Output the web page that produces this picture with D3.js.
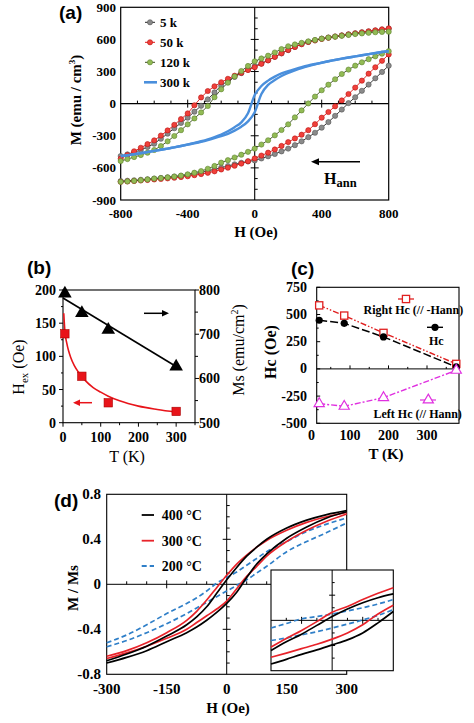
<!DOCTYPE html>
<html><head><meta charset="utf-8">
<script src="https://cdn.jsdelivr.net/npm/d3@7"></script>
<style>body{margin:0;background:#fff}svg{display:block}</style>
</head><body>
<script>
// ---------------- DATA ----------------
// (a) hysteresis loops, field H (Oe) and magnetization M (emu/cm3)
const aH = [-800,-760,-720,-680,-640,-600,-560,-520,-480,-440,-400,-360,-320,-280,-240,-200,-160,-120,-80,-40,0,40,80,120,160,200,240,280,320,360,400,440,480,520,560,600,640,680,720,760,800];
const a5kUp  = [-489,-474,-455,-432,-405,-374,-328,-280,-230,-180,-131,-75,-20,40,105,170,212,250,285,318,350,376,405,437,470,500,530,557,577,592,607,617,627,637,647,657,666,674,683,692,700];
const a5kLo  = [-723,-720,-716,-711,-706,-700,-694,-688,-681,-674,-665,-654,-642,-628,-613,-598,-583,-567,-552,-540,-530,-512,-492,-470,-446,-420,-388,-352,-313,-272,-224,-172,-114,-55,5,60,120,178,237,296,355];
const a50kUp = [-514,-480,-445,-412,-378,-343,-298,-250,-198,-144,-91,-15,58,118,162,200,232,261,288,314,340,372,404,437,470,501,530,555,576,590,605,616,627,637,647,657,666,676,685,694,703];
const a50kLo = [-730,-727,-723,-718,-713,-708,-703,-698,-692,-686,-678,-668,-658,-646,-632,-615,-598,-580,-560,-538,-512,-485,-458,-428,-395,-359,-325,-290,-248,-192,-131,-78,-25,30,90,150,215,280,340,400,460];
const a120kUp = [-536,-518,-499,-480,-458,-433,-396,-352,-302,-248,-193,-138,-82,-22,60,134,196,254,305,352,395,422,448,478,510,536,553,568,582,595,607,617,626,634,642,650,656,662,667,670,672];
const a120kLo = [-730,-726,-721,-715,-708,-700,-695,-689,-681,-672,-660,-645,-630,-608,-582,-551,-528,-503,-477,-450,-420,-382,-342,-296,-246,-193,-128,-63,2,66,125,177,228,277,318,355,386,415,442,467,490];
const a300kUp = [-489,-483,-472,-462,-452,-441,-431,-420,-409,-396,-382,-367,-351,-333,-312,-288,-258,-220,-175,-90,80,165,215,252,282,303,322,340,356,370,383,396,408,420,431,441,452,463,473,482,491];
const a300kLo = [-491,-482,-473,-463,-452,-441,-431,-420,-408,-396,-383,-370,-356,-340,-322,-303,-282,-252,-215,-165,-80,90,175,220,258,288,312,333,351,367,382,396,409,420,431,441,452,462,472,483,489];
const aSeries = ["5 k","50 k","120 k","300 k"];
const aXTicks = [-800,-400,0,400,800];
const aYTicks = [-900,-600,-300,0,300,600,900];

// (b) exchange bias and Ms vs T
const bT   = [5, 50, 120, 300];
const bHex = [134, 70, 30, 17];
const bMs  = [792, 748, 710, 627];
const bHexFitT = [2,5,10,15,20,30,40,50,60,80,100,120,150,200,250,300];
const bHexFit  = [165,138,120,108,99,86,77,70,63,53,46,40,33,25,20,16];
const bMsFitT = [0, 300];
const bMsFit  = [782, 627];
const bXTicks = [0,100,200,300];
const bYLTicks = [0,50,100,150,200];
const bYRTicks = [500,600,700,800];

// (c) coercivity vs T
const cT     = [20, 85, 187, 376];
const cRight = [584, 490, 331, 46];
const cHc    = [447, 419, 294, 18];
const cLeft  = [-319, -344, -264, -13];
const cXTicks = [0,100,200,300];
const cYTicks = [-500,-250,0,250,500,750];

// (d) normalized loops for different annealing temperatures
const dH = [-300,-250,-200,-150,-100,-75,-50,-25,0,25,50,75,100,150,200,250,300];
const d400Up = [-0.68,-0.62,-0.55,-0.46,-0.36,-0.29,-0.20,-0.08,0.04,0.15,0.25,0.33,0.40,0.50,0.57,0.62,0.655];
const d400Lo = [-0.70,-0.65,-0.59,-0.51,-0.43,-0.38,-0.32,-0.25,-0.17,-0.07,0.06,0.18,0.27,0.41,0.51,0.59,0.645];
const d300Up = [-0.64,-0.59,-0.52,-0.43,-0.32,-0.24,-0.14,-0.03,0.08,0.18,0.26,0.33,0.39,0.48,0.55,0.60,0.64];
const d300Lo = [-0.66,-0.61,-0.55,-0.48,-0.40,-0.34,-0.28,-0.22,-0.15,-0.04,0.07,0.16,0.25,0.38,0.48,0.56,0.625];
const d200Up = [-0.52,-0.45,-0.36,-0.26,-0.17,-0.12,-0.06,0.01,0.06,0.11,0.17,0.23,0.29,0.38,0.47,0.535,0.59];
const d200Lo = [-0.555,-0.50,-0.43,-0.35,-0.26,-0.21,-0.16,-0.11,-0.06,-0.01,0.04,0.10,0.16,0.29,0.38,0.46,0.545];
const dSeries = ["400 °C","300 °C","200 °C"];
const dXTicks = [-300,-150,0,150,300];
const dYTicks = [-0.8,-0.4,0,0.4,0.8];
// inset (zoom around origin)
const iH = [-40,-30,-20,-10,0,10,20,30,40];
const i400Up = [-0.24,-0.17,-0.11,-0.04,0.03,0.09,0.14,0.18,0.21];
const i400Lo = [-0.347,-0.31,-0.27,-0.235,-0.195,-0.155,-0.10,-0.02,0.07];
const i300Up = [-0.213,-0.145,-0.08,-0.01,0.064,0.11,0.165,0.215,0.259];
const i300Lo = [-0.293,-0.26,-0.225,-0.19,-0.149,-0.10,-0.035,0.05,0.12];
const i200Up = [-0.061,-0.025,0.012,0.03,0.05,0.075,0.10,0.13,0.165];
const i200Lo = [-0.16,-0.14,-0.115,-0.09,-0.061,-0.03,0.003,0.04,0.085];

// ---------------- DRAWING ----------------
const W = 474, Hh = 723;
const SERIF = "'Liberation Serif','Times New Roman',serif";
const SANS = "'Liberation Sans',Arial,sans-serif";
const svg = d3.select("body").append("svg").attr("width", W).attr("height", Hh);
svg.append("rect").attr("width", W).attr("height", Hh).attr("fill", "#fff");

function frame(g, x0, y0, x1, y1, sw) {
  g.append("rect").attr("x", x0).attr("y", y0).attr("width", x1 - x0).attr("height", y1 - y0)
    .attr("fill", "none").attr("stroke", "#000").attr("stroke-width", sw || 1.1);
}
function seg(g, x1, y1, x2, y2, col, sw) {
  return g.append("line").attr("x1", x1).attr("y1", y1).attr("x2", x2).attr("y2", y2)
    .attr("stroke", col || "#000").attr("stroke-width", sw || 1);
}
function txt(g, x, y, s, size, anchor, weight, fam) {
  return g.append("text").attr("x", x).attr("y", y).text(s)
    .attr("font-size", size).attr("text-anchor", anchor || "start")
    .attr("font-weight", weight || "bold").attr("font-family", fam || SERIF).attr("fill", "#000");
}
function panelLabel(x, y, s) { txt(svg, x, y, s, 19, "start", "bold", SANS); }

// ===== Panel (a) =====
{
  const g = svg.append("g");
  const x = d3.scaleLinear().domain([-800, 800]).range([120.7, 388.7]);
  const y = d3.scaleLinear().domain([-900, 900]).range([200, 7.3]);
  frame(g, x(-800), y(900), x(800), y(-900), 1.2);
  const x0 = x(0), y0 = y(0);
  seg(g, x(-800), y0, x(800), y0, "#000", 1.1);
  seg(g, x0, y(900), x0, y(-900), "#000", 1.1);
  d3.range(-700, 800, 100).forEach(h => { if (h === 0) return;
    if (Math.abs(h) === 400) seg(g, x(h), y0 - 4, x(h), y0 + 4); else seg(g, x(h), y0 - 3, x(h), y0); });
  d3.range(-800, 900, 100).forEach(m => { if (m === 0) return;
    if (Math.abs(m) % 300 === 0) seg(g, x0 - 4, y(m), x0 + 4, y(m)); else seg(g, x0, y(m), x0 + 3, y(m)); });
  aXTicks.forEach(t => txt(g, x(t), 217.5, t, 13, "middle"));
  aYTicks.forEach(t => txt(g, 116, y(t) + 4.5, t, 13, "end"));
  const yl = txt(g, 0, 0, "M (emu / cm", 15, "middle").attr("transform", "translate(81,100) rotate(-90)");
  yl.append("tspan").attr("dy", -6).attr("font-size", 9).text("3");
  yl.append("tspan").attr("dy", 6).text(")");
  txt(g, 256, 237, "H (Oe)", 15, "middle");

  const line = d3.line().x((d, i) => x(aH[i])).y(d => y(d));
  const mk = [
    {up: a5kUp, lo: a5kLo, fill: "#8a8a8a", stroke: "#555", line: "#222"},
    {up: a50kUp, lo: a50kLo, fill: "#f0403a", stroke: "#b81414", line: "#e01414"},
    {up: a120kUp, lo: a120kLo, fill: "#92bb55", stroke: "#5f8330", line: "#3a4a20"}
  ];
  mk.forEach(s => {
    [s.up, s.lo].forEach(arr => {
      g.append("path").attr("d", line(arr)).attr("fill", "none").attr("stroke", s.line).attr("stroke-width", 0.9);
      g.selectAll(null).data(arr).enter().append("circle")
        .attr("cx", (d, i) => x(aH[i])).attr("cy", d => y(d)).attr("r", 2.6)
        .attr("fill", s.fill).attr("stroke", s.stroke).attr("stroke-width", 0.6);
    });
  });
  const sm = d3.line().x((d, i) => x(aH[i])).y(d => y(d)).curve(d3.curveMonotoneX);
  [a300kUp, a300kLo].forEach(arr => g.append("path").attr("d", sm(arr)).attr("fill", "none")
    .attr("stroke", "#4a8fdc").attr("stroke-width", 2.4));

  // legend
  const ly = [22.3, 42.3, 62.3, 82.3];
  aSeries.forEach((name, i) => {
    if (i < 3) {
      seg(g, 145, ly[i], 155, ly[i], mk[i].line, 1);
      g.append("circle").attr("cx", 150).attr("cy", ly[i]).attr("r", 2.6)
        .attr("fill", mk[i].fill).attr("stroke", mk[i].stroke).attr("stroke-width", 0.6);
    } else {
      seg(g, 144, ly[i], 157, ly[i], "#4a8fdc", 2.6);
    }
    txt(g, 160, ly[i] + 4.5, name, 13, "start");
  });
  // H_ann arrow
  seg(g, 360, 161.7, 318, 161.7, "#000", 1.6);
  g.append("path").attr("d", "M311,161.7 L319,158.2 L319,165.2 Z").attr("fill", "#000");
  const ha = txt(g, 324, 183.5, "H", 16, "start");
  ha.append("tspan").attr("dy", 3).attr("font-size", 12.5).text("ann");
  panelLabel(59, 19, "(a)");
}

// ===== Panel (b) =====
{
  const g = svg.append("g");
  const x = d3.scaleLinear().domain([0, 350]).range([63, 195]);
  const yL = d3.scaleLinear().domain([0, 200]).range([422.7, 290]);
  const yR = d3.scaleLinear().domain([500, 800]).range([422.7, 290]);
  frame(g, x(0), yL(200), x(350), yL(0), 1.1);
  d3.range(0, 201, 25).forEach(v => seg(g, x(0) - (v % 50 === 0 ? 4 : 2), yL(v), x(0), yL(v)));
  d3.range(500, 801, 50).forEach(v => seg(g, x(350), yR(v), x(350) + (v % 100 === 0 ? 4 : 3), yR(v)));
  d3.range(0, 351, 50).forEach(v => seg(g, x(v), yL(0), x(v), yL(0) + (v % 100 === 0 ? 4 : 2.5)));
  bXTicks.forEach(t => txt(g, x(t), 441.5, t, 14, "middle"));
  bYLTicks.forEach(t => txt(g, 56, yL(t) + 5, t, 14, "end"));
  bYRTicks.forEach(t => txt(g, 199, yR(t) + 5, t, 14, "start"));
  txt(g, 127, 462, "T (K)", 16, "middle", "normal");
  const yl = txt(g, 0, 0, "H", 16, "middle", "normal").attr("transform", "translate(24,367) rotate(-90)");
  yl.append("tspan").attr("dy", 4).attr("font-size", 11).text("ex");
  yl.append("tspan").attr("dy", -4).text(" (Oe)");
  const yr = txt(g, 0, 0, "Ms (emu/cm", 16, "middle", "normal").attr("transform", "translate(244,350) rotate(-90)");
  yr.append("tspan").attr("dy", -6).attr("font-size", 10).text("2");
  yr.append("tspan").attr("dy", 6).text(")");

  // fits
  g.append("path").attr("d", d3.line().x((d, i) => x(bMsFitT[i])).y(d => yR(d))(bMsFit))
    .attr("fill", "none").attr("stroke", "#000").attr("stroke-width", 1.6);
  g.append("path").attr("d", d3.line().x((d, i) => x(bHexFitT[i])).y(d => yL(d)).curve(d3.curveMonotoneX)(bHexFit))
    .attr("fill", "none").attr("stroke", "#e8141a").attr("stroke-width", 1.6);
  // markers
  g.selectAll(null).data(bMs).enter().append("path")
    .attr("d", d3.symbol(d3.symbolTriangle, 80))
    .attr("transform", (d, i) => `translate(${x(bT[i])},${yR(d)})`).attr("fill", "#000");
  g.selectAll(null).data(bHex).enter().append("rect")
    .attr("x", (d, i) => x(bT[i]) - 4.2).attr("y", d => yL(d) - 4.2).attr("width", 8.4).attr("height", 8.4)
    .attr("fill", "#e8141a").attr("stroke", "#a00").attr("stroke-width", 0.6);
  // arrows
  seg(g, 144, 313.3, 163, 313.3, "#000", 1.5);
  g.append("path").attr("d", "M169,313.3 L162,310 L162,316.6 Z").attr("fill", "#000");
  seg(g, 92, 402.7, 79, 402.7, "#e8141a", 1.5);
  g.append("path").attr("d", "M73,402.7 L80,399.4 L80,406 Z").attr("fill", "#e8141a");
  panelLabel(27, 274, "(b)");
}

// ===== Panel (c) =====
{
  const g = svg.append("g");
  const x = d3.scaleLinear().domain([0, 300]).range([311.5, 427]);
  const y = d3.scaleLinear().domain([-500, 750]).range([423.3, 287.3]);
  const L = 316.7, R = 459;
  frame(g, L, y(750), R, y(-500), 1.1);
  seg(g, L, y(0), R, y(0), "#000", 1);
  d3.range(-500, 751, 125).forEach(v => seg(g, L, y(v), L + (v % 250 === 0 ? 3.5 : 2), y(v)));
  d3.range(50, 376, 50).forEach(v => { if (x(v) < R - 2) seg(g, x(v), y(0) - (v % 100 === 0 ? 3.5 : 2), x(v), y(0)); });
  cXTicks.forEach(t => txt(g, x(t), 440, t, 14, "middle"));
  cYTicks.forEach(t => txt(g, 307, y(t) + 4.5, t, 14, "end"));
  txt(g, 386, 459, "T (K)", 15, "middle");
  txt(g, 0, 0, "Hc (Oe)", 16, "middle").attr("transform", "translate(276,352) rotate(-90)");

  const ln = arr => d3.line().x((d, i) => x(cT[i])).y(d => y(d))(arr);
  g.append("path").attr("d", ln(cRight)).attr("fill", "none").attr("stroke", "#e02020")
    .attr("stroke-width", 1.4).attr("stroke-dasharray", "6,2,1.5,2,1.5,2");
  g.append("path").attr("d", ln(cHc)).attr("fill", "none").attr("stroke", "#000")
    .attr("stroke-width", 1.5).attr("stroke-dasharray", "8,3");
  g.append("path").attr("d", ln(cLeft)).attr("fill", "none").attr("stroke", "#e030e0")
    .attr("stroke-width", 1.4).attr("stroke-dasharray", "6,2,2,2");
  const sq = (cx, cy) => g.append("rect").attr("x", cx - 3.6).attr("y", cy - 3.6).attr("width", 7.2).attr("height", 7.2)
    .attr("fill", "#fff").attr("stroke", "#e02020").attr("stroke-width", 1.3);
  const ci = (cx, cy) => g.append("circle").attr("cx", cx).attr("cy", cy).attr("r", 3.6).attr("fill", "#000");
  const tr = (cx, cy) => g.append("path").attr("d", d3.symbol(d3.symbolTriangle, 45))
    .attr("transform", `translate(${cx},${cy})`).attr("fill", "#fff").attr("stroke", "#e030e0").attr("stroke-width", 1.2);
  cRight.forEach((d, i) => sq(x(cT[i]), y(d)));
  cHc.forEach((d, i) => ci(x(cT[i]), y(d)));
  cLeft.forEach((d, i) => tr(x(cT[i]), y(d)));
  // legend
  seg(g, 398, 299, 414, 299, "#e02020", 1.3); sq(406, 299);
  txt(g, 363.5, 313.5, "Right Hc (// -Hann)", 12, "start");
  seg(g, 427, 327.3, 443, 327.3, "#000", 1.4); ci(435, 327.3);
  txt(g, 429, 344.5, "Hc", 12, "start");
  seg(g, 420, 400, 436, 400, "#e030e0", 1.2); tr(428.3, 400);
  txt(g, 373.5, 417.5, "Left Hc (// Hann)", 12, "start");
  panelLabel(291, 275, "(c)");
}

// ===== Panel (d) =====
{
  const g = svg.append("g");
  const x = d3.scaleLinear().domain([-300, 300]).range([106.7, 346.7]);
  const y = d3.scaleLinear().domain([-0.8, 0.8]).range([674.3, 494.3]);
  frame(g, x(-300), y(0.8), x(300), y(-0.8), 1.1);
  const x0 = x(0), y0 = y(0);
  seg(g, x(-300), y0, x(300), y0);
  seg(g, x0, y(0.8), x0, y(-0.8));
  d3.range(-250, 251, 50).forEach(h => { if (h === 0) return;
    if (Math.abs(h) === 150) seg(g, x(h), y0 - 4, x(h), y0 + 4); else seg(g, x(h), y0 - 3, x(h), y0); });
  d3.range(-7, 8, 1).forEach(k => { if (k === 0) return; const m = k / 10;
    if (Math.abs(k) === 4) seg(g, x0 - 4, y(m), x0 + 4, y(m)); else seg(g, x0, y(m), x0 + 3, y(m)); });
  dXTicks.forEach(t => txt(g, x(t), 694, t, 15, "middle"));
  dYTicks.forEach(t => txt(g, 101, y(t) + 5, t, 15, "end"));
  txt(g, 228, 713, "H (Oe)", 15, "middle");
  txt(g, 0, 0, "M / Ms", 15, "middle").attr("transform", "translate(78,588) rotate(-90)");

  const cols = ["#000", "#e8232a", "#2f7fc8"];
  const dashes = [null, null, "5,3"];
  const sets = [[d400Up, d400Lo], [d300Up, d300Lo], [d200Up, d200Lo]];
  const ln = d3.line().x((d, i) => x(dH[i])).y(d => y(d)).curve(d3.curveMonotoneX);
  [2, 1, 0].forEach(k => sets[k].forEach(arr => g.append("path").attr("d", ln(arr)).attr("fill", "none")
    .attr("stroke", cols[k]).attr("stroke-width", 1.7).attr("stroke-dasharray", dashes[k])));
  // legend
  const ly = [515, 540.7, 566];
  dSeries.forEach((s, i) => {
    seg(g, 141.7, ly[i], 154, ly[i], cols[i], 1.8).attr("stroke-dasharray", dashes[i]);
    txt(g, 161.7, ly[i] + 5, s, 14, "start");
  });
  // inset
  const ix = d3.scaleLinear().domain([-40, 40]).range([271, 393.3]);
  const iy = d3.scaleLinear().domain([-0.4, 0.4]).range([670.7, 570]);
  const gi = g.append("g");
  gi.append("rect").attr("x", 271).attr("y", 570).attr("width", 122.3).attr("height", 100.7)
    .attr("fill", "#fff").attr("stroke", "#000").attr("stroke-width", 1.1);
  const ix0 = ix(0), iy0 = iy(0);
  seg(gi, 271, iy0, 393.3, iy0);
  seg(gi, ix0, 570, ix0, 670.7);
  [-30, -20, -10, 10, 20, 30].forEach(h => {
    if (Math.abs(h) === 20) seg(gi, ix(h), iy0 - 3.5, ix(h), iy0 + 3.5); else seg(gi, ix(h), iy0 - 2.5, ix(h), iy0); });
  [-0.3, -0.2, -0.1, 0.1, 0.2, 0.3].forEach(m => {
    if (Math.abs(m) === 0.2) seg(gi, ix0 - 3, iy(m), ix0 + 3, iy(m)); else seg(gi, ix0, iy(m), ix0 + 2.5, iy(m)); });
  const isets = [[i400Up, i400Lo], [i300Up, i300Lo], [i200Up, i200Lo]];
  const iln = d3.line().x((d, i) => ix(iH[i])).y(d => iy(d)).curve(d3.curveMonotoneX);
  [2, 1, 0].forEach(k => isets[k].forEach(arr => gi.append("path").attr("d", iln(arr)).attr("fill", "none")
    .attr("stroke", cols[k]).attr("stroke-width", 1.7).attr("stroke-dasharray", dashes[k])));
  panelLabel(54, 507, "(d)");
}
</script>
</body></html>
